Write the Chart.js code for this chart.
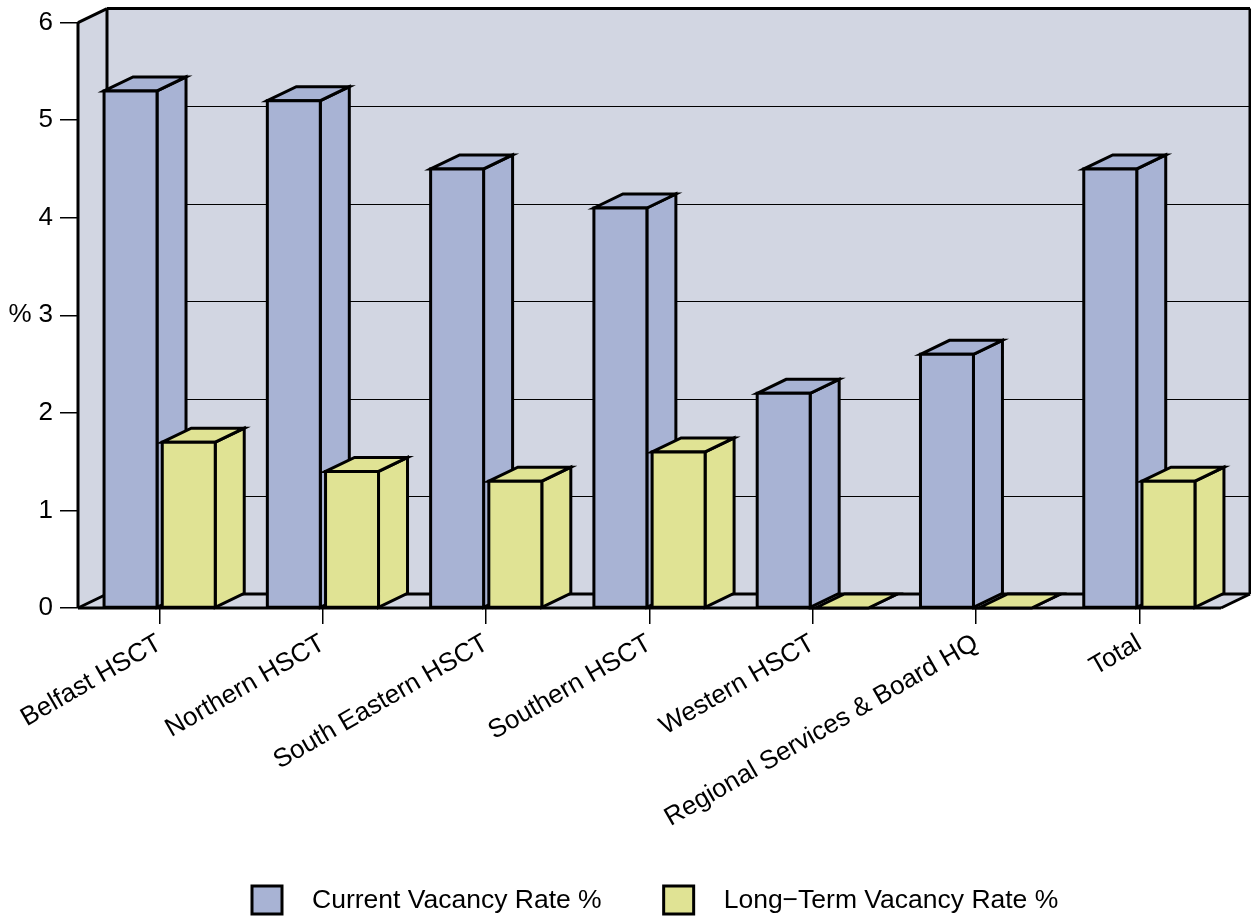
<!DOCTYPE html>
<html lang="en">
<head>
    <meta charset="UTF-8">
    <title>Vacancy Rates by Trust</title>
    <style>
        body {
            margin: 0;
            padding: 0;
            background-color: #fff;
        }
        #chart-box {
            width: 1251px;
            height: 920px;
        }
    </style>
</head>
<body>
    <div id="chart-box">
        <canvas id="bar-chart" width="1251" height="920"></canvas>
    </div>

    <script src="https://cdn.jsdelivr.net/npm/chart.js"></script>
    <script>
        // datos del grafico
        const categories = ['Belfast HSCT', 'Northern HSCT', 'South Eastern HSCT', 'Southern HSCT',
            'Western HSCT', 'Regional Services & Board HQ', 'Total'];
        const currentRate = [5.3, 5.2, 4.5, 4.1, 2.2, 2.6, 4.5];
        const longTermRate = [1.7, 1.4, 1.3, 1.6, 0, 0, 1.3];
        const yTicks = [0, 1, 2, 3, 4, 5, 6];
        const seriesNames = ['Current Vacancy Rate %', 'Long\u2212Term Vacancy Rate %'];

        const FONT = '"Liberation Sans", Arial, sans-serif';
        const WALL = '#d2d6e2';
        const BLUE = '#a8b3d4';
        const YELLOW = '#e0e394';
        // profundidad del efecto 3D
        const DX = 29;
        const DY = -14;

        function poly(ctx, pts, fill, stroke) {
            ctx.beginPath();
            ctx.moveTo(pts[0][0], pts[0][1]);
            for (let i = 1; i < pts.length; i++) ctx.lineTo(pts[i][0], pts[i][1]);
            ctx.closePath();
            if (fill) { ctx.fillStyle = fill; ctx.fill(); }
            if (stroke) ctx.stroke();
        }

        function seg(ctx, x1, y1, x2, y2) {
            ctx.beginPath();
            ctx.moveTo(x1, y1);
            ctx.lineTo(x2, y2);
            ctx.stroke();
        }

        const box3d = {
            id: 'box3d',
            beforeDatasetsDraw(chart) {
                const ctx = chart.ctx;
                const a = chart.chartArea;
                const y = chart.scales.y;
                ctx.save();
                // pared trasera, pared izquierda y piso
                ctx.fillStyle = WALL;
                ctx.fillRect(a.left + DX, a.top + DY, a.right - a.left, a.bottom - a.top);
                poly(ctx, [[a.left, a.bottom], [a.left, a.top], [a.left + DX, a.top + DY], [a.left + DX, a.bottom + DY]], WALL);
                poly(ctx, [[a.left, a.bottom], [a.left + DX, a.bottom + DY], [a.right + DX, a.bottom + DY], [a.right, a.bottom]], WALL);

                // lineas de la cuadricula en la pared trasera
                ctx.strokeStyle = '#000';
                ctx.lineWidth = 1.2;
                y.ticks.forEach(t => {
                    if (t.value > y.min && t.value < y.max) {
                        const py = Math.round(y.getPixelForValue(t.value) + DY) + 0.5;
                        seg(ctx, a.left + DX, py, a.right + DX, py);
                    }
                });

                // bordes
                ctx.lineWidth = 3;
                ctx.lineJoin = 'miter';
                seg(ctx, a.left + DX, a.top + DY, a.right + DX, a.top + DY);
                seg(ctx, a.right + DX, a.top + DY, a.right + DX, a.bottom + DY);
                seg(ctx, a.left + DX, a.top + DY, a.left + DX, a.bottom + DY);
                seg(ctx, a.left + DX, a.bottom + DY, a.right + DX, a.bottom + DY);
                seg(ctx, a.left, a.top, a.left + DX, a.top + DY);
                seg(ctx, a.left, a.top, a.left, a.bottom);
                seg(ctx, a.left, a.bottom, a.left + DX, a.bottom + DY);
                seg(ctx, a.left, a.bottom, a.right, a.bottom);
                seg(ctx, a.right, a.bottom, a.right + DX, a.bottom + DY);
                ctx.restore();
            },
            beforeDatasetDraw() {
                // las barras se dibujan abajo en 3D
                return false;
            },
            afterDatasetsDraw(chart) {
                const ctx = chart.ctx;
                const metas = chart.data.datasets.map((d, i) => chart.getDatasetMeta(i));
                ctx.save();
                ctx.strokeStyle = '#000';
                ctx.lineWidth = 3;
                ctx.lineJoin = 'miter';
                for (let j = 0; j < categories.length; j++) {
                    metas.forEach((meta, di) => {
                        const bar = meta.data[j];
                        const color = chart.data.datasets[di].backgroundColor;
                        const x1 = bar.x - bar.width / 2;
                        const x2 = bar.x + bar.width / 2;
                        const top = bar.y;
                        const base = bar.base;
                        // lado
                        poly(ctx, [[x2, top], [x2 + DX, top + DY], [x2 + DX, base + DY], [x2, base]], color, true);
                        // tapa
                        poly(ctx, [[x1, top], [x1 + DX, top + DY], [x2 + DX, top + DY], [x2, top]], color, true);
                        // frente
                        if (base - top > 0.5) {
                            poly(ctx, [[x1, top], [x2, top], [x2, base], [x1, base]], color, true);
                        }
                    });
                }
                ctx.restore();
            },
            afterDraw(chart) {
                const ctx = chart.ctx;
                ctx.save();
                // titulo del eje y
                ctx.fillStyle = '#000';
                ctx.font = '26px ' + FONT;
                ctx.textAlign = 'center';
                ctx.textBaseline = 'middle';
                ctx.fillText('%', 20, chart.scales.y.getPixelForValue(3));

                // leyenda
                ctx.font = '26.5px ' + FONT;
                ctx.textAlign = 'left';
                let lx = 252;
                const ly = 886;
                chart.data.datasets.forEach(ds => {
                    ctx.fillStyle = ds.backgroundColor;
                    ctx.fillRect(lx, ly, 30, 28);
                    ctx.lineWidth = 3;
                    ctx.strokeStyle = '#000';
                    ctx.strokeRect(lx, ly, 30, 28);
                    ctx.fillStyle = '#000';
                    ctx.fillText(ds.label, lx + 60, ly + 15);
                    lx += 60 + ctx.measureText(ds.label).width + 62;
                });
                ctx.restore();
            }
        };

        document.addEventListener('DOMContentLoaded', function() {
            var ctxBar = document.getElementById('bar-chart').getContext('2d');
            new Chart(ctxBar, {
                type: 'bar',
                data: {
                    labels: categories,
                    datasets: [{
                        label: seriesNames[0],
                        data: currentRate,
                        backgroundColor: BLUE
                    }, {
                        label: seriesNames[1],
                        data: longTermRate,
                        backgroundColor: YELLOW
                    }]
                },
                options: {
                    responsive: false,
                    animation: false,
                    devicePixelRatio: 1,
                    categoryPercentage: 0.713,
                    barPercentage: 0.91,
                    layout: {
                        padding: { top: 22, right: 30, left: 0, bottom: 0 }
                    },
                    plugins: {
                        legend: { display: false },
                        tooltip: { enabled: false }
                    },
                    scales: {
                        x: {
                            afterFit: s => { s.height = 312; },
                            grid: {
                                offset: false,
                                drawOnChartArea: false,
                                tickLength: 16,
                                color: '#000',
                                lineWidth: 1.5
                            },
                            border: { display: false },
                            ticks: {
                                autoSkip: false,
                                maxRotation: 30,
                                minRotation: 30,
                                padding: 4,
                                color: '#000',
                                font: { family: FONT, size: 26 }
                            }
                        },
                        y: {
                            min: yTicks[0],
                            max: yTicks[yTicks.length - 1],
                            afterFit: s => { s.width = 78; },
                            afterBuildTicks: s => { s.ticks = yTicks.map(v => ({ value: v })); },
                            grid: {
                                drawOnChartArea: false,
                                tickLength: 18,
                                color: '#000',
                                lineWidth: 1.5
                            },
                            border: { display: false },
                            ticks: {
                                padding: 7,
                                color: '#000',
                                font: { family: FONT, size: 26 }
                            }
                        }
                    }
                },
                plugins: [box3d]
            });
        });
    </script>
</body>
</html>
